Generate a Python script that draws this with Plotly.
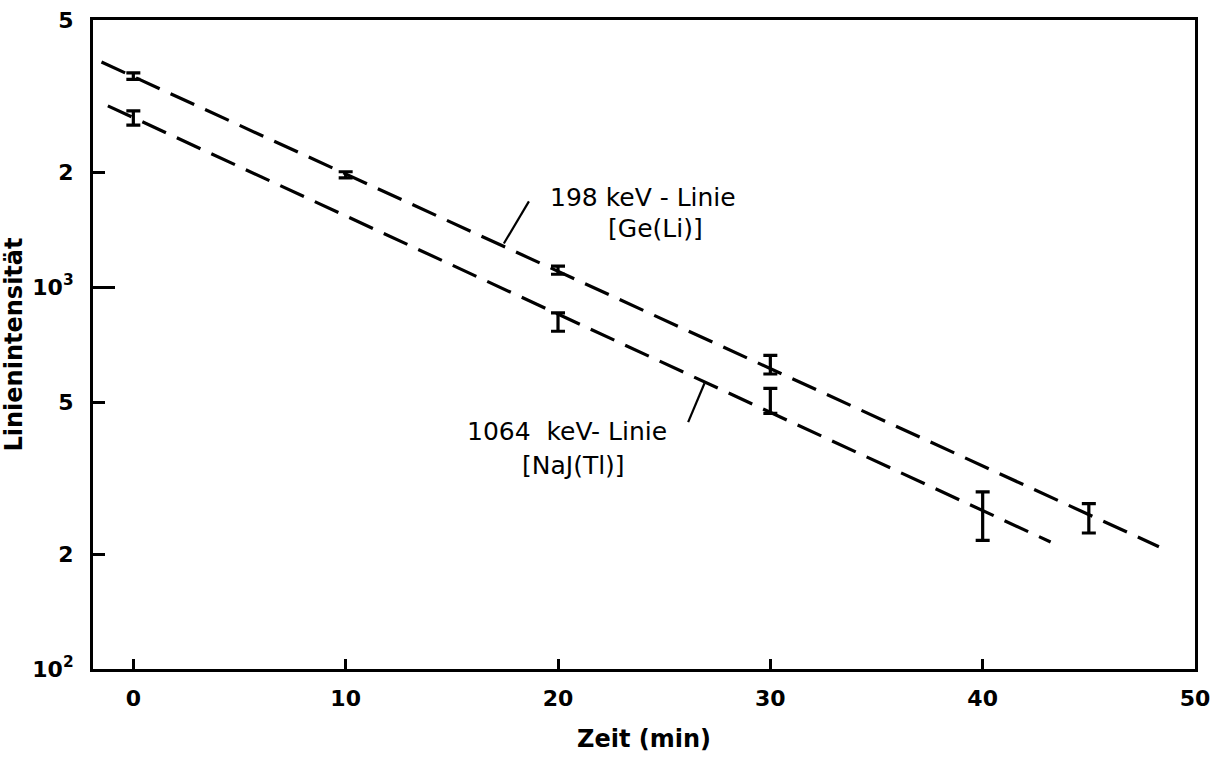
import numpy as np
import plotly.graph_objects as go

# ---- data ----
ge_time = [0, 10, 20, 30, 45]
ge_int = [3565, 1967, 1107, 627, 249]
ge_err = [70, 36, 27, 35, 22]

naj_time = [0, 20, 30, 40]
naj_int = [2773, 811, 505, 254]
naj_err = [119, 45, 38, 37]

ge_fit_x = [-1.5, 48.3]
ge_fit_y = [3880, 209]
naj_fit_x = [-1.2, 43.2]
naj_fit_y = [2980, 215]

# leader lines from the labels to the fit lines
ge_leader_x = [17.45, 18.63]
ge_leader_y = [1300, 1675]
naj_leader_x = [26.9, 26.13]
naj_leader_y = [560, 443]

x_ticks = [0, 10, 20, 30, 40, 50]
y_ticks = [100, 200, 500, 1000, 2000, 5000]
y_ticktext = ["10<sup>2</sup>", "2", "5", "10<sup>3</sup>", "2", "5"]

ge_label = ["198 keV - Linie", "[Ge(Li)]"]
naj_label = ["1064  keV- Linie", "[NaJ(Tl)]"]
x_title = "Zeit (min)"
y_title = "Linienintensität"

FONT = "DejaVu Sans"
BLACK = "#000000"

fig = go.Figure()

dash = "26px,12px"
for fx, fy in [(ge_fit_x, ge_fit_y), (naj_fit_x, naj_fit_y)]:
    fig.add_trace(go.Scatter(x=fx, y=fy, mode="lines",
                             line=dict(color=BLACK, width=3.2, dash=dash),
                             showlegend=False, hoverinfo="skip"))

for lx, ly in [(ge_leader_x, ge_leader_y), (naj_leader_x, naj_leader_y)]:
    fig.add_trace(go.Scatter(x=lx, y=ly, mode="lines",
                             line=dict(color=BLACK, width=2.2),
                             showlegend=False, hoverinfo="skip"))

for xs, ys, es in [(ge_time, ge_int, ge_err), (naj_time, naj_int, naj_err)]:
    fig.add_trace(go.Scatter(x=xs, y=ys, mode="markers",
                             marker=dict(size=1, color="rgba(0,0,0,0)"),
                             error_y=dict(type="data", array=es, visible=True,
                                          color=BLACK, thickness=3.2, width=7),
                             showlegend=False))

# helper axis for the longer decade tick
fig.add_trace(go.Scatter(x=[None], y=[None], yaxis="y2", showlegend=False))

def lg(v):
    return float(np.log10(v))

LF = dict(family=FONT, size=25, color=BLACK)
ann = [
    dict(x=24.0, y=lg(1714), text=ge_label[0], showarrow=False, font=LF),
    dict(x=24.6, y=lg(1426), text=ge_label[1], showarrow=False, font=LF),
    dict(x=20.4, y=lg(419), text=naj_label[0], showarrow=False, font=LF),
    dict(x=20.75, y=lg(340), text=naj_label[1], showarrow=False, font=LF),
]
for a in ann:
    a.update(xref="x", yref="y")

TF = dict(family=FONT, size=22, color=BLACK, weight="bold")
fig.update_layout(
    width=1220, height=768,
    margin=dict(l=93, r=25, t=20, b=99),
    paper_bgcolor="white", plot_bgcolor="white",
    font=dict(family=FONT, size=22, color=BLACK),
    annotations=ann,
    xaxis=dict(range=[-1.9, 50], tickvals=x_ticks, ticktext=[str(v) for v in x_ticks],
               ticks="inside", ticklen=10, tickwidth=3, tickcolor=BLACK,
               showline=True, linewidth=3, linecolor=BLACK, mirror=True,
               showgrid=False, zeroline=False, automargin=False,
               tickfont=TF, ticklabelstandoff=8,
               title=dict(text=x_title, font=dict(family=FONT, size=24, color=BLACK, weight="bold"),
                          standoff=20)),
    yaxis=dict(type="log", range=[lg(100), lg(5000)], tickvals=y_ticks, ticktext=y_ticktext,
               ticks="inside", ticklen=12, tickwidth=3, tickcolor=BLACK,
               showline=True, linewidth=3, linecolor=BLACK, mirror=True,
               showgrid=False, zeroline=False, automargin=False,
               tickfont=TF, ticklabelstandoff=12,
               title=dict(text=y_title, font=dict(family=FONT, size=24, color=BLACK, weight="bold"),
                          standoff=8)),
    yaxis2=dict(type="log", range=[lg(100), lg(5000)], overlaying="y", side="left",
                tickvals=[1000], ticks="inside", ticklen=22, tickwidth=3,
                tickcolor=BLACK, showline=False, showgrid=False, zeroline=False,
                showticklabels=False, automargin=False),
)

fig.write_html("out.html")
